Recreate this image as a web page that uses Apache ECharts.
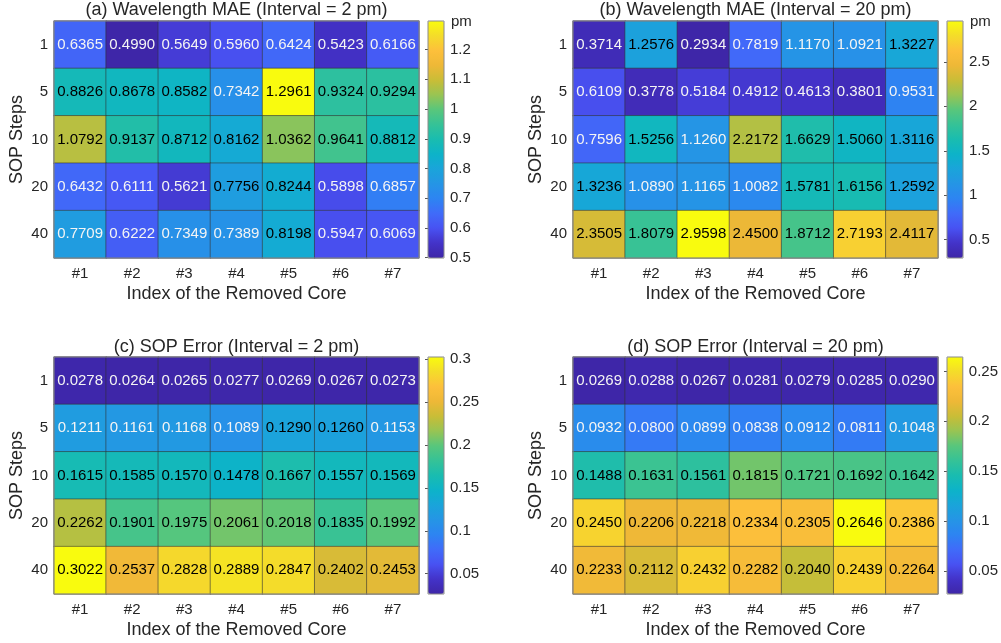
<!DOCTYPE html>
<html><head><meta charset="utf-8">
<script src="https://cdn.jsdelivr.net/npm/echarts@6/dist/echarts.min.js"></script>
<style>html,body{margin:0;padding:0;background:#fff}#c{width:1001px;height:643px}</style>
</head><body><div id="c"></div>
<script>
const cores = ['#1','#2','#3','#4','#5','#6','#7'];
const steps = ['1','5','10','20','40'];
const panelTitles = [
  '(a) Wavelength MAE (Interval = 2 pm)',
  '(b) Wavelength MAE (Interval = 20 pm)',
  '(c) SOP Error (Interval = 2 pm)',
  '(d) SOP Error (Interval = 20 pm)'
];
const colorbarUnits = ['pm','pm','',''];
const xAxisName = 'Index of the Removed Core';
const yAxisName = 'SOP Steps';

const maeInt2 = [
  [0.6365,0.4990,0.5649,0.5960,0.6424,0.5423,0.6166],
  [0.8826,0.8678,0.8582,0.7342,1.2961,0.9324,0.9294],
  [1.0792,0.9137,0.8712,0.8162,1.0362,0.9641,0.8812],
  [0.6432,0.6111,0.5621,0.7756,0.8244,0.5898,0.6857],
  [0.7709,0.6222,0.7349,0.7389,0.8198,0.5947,0.6069]
];
const maeInt20 = [
  [0.3714,1.2576,0.2934,0.7819,1.1170,1.0921,1.3227],
  [0.6109,0.3778,0.5184,0.4912,0.4613,0.3801,0.9531],
  [0.7596,1.5256,1.1260,2.2172,1.6629,1.5060,1.3116],
  [1.3236,1.0890,1.1165,1.0082,1.5781,1.6156,1.2592],
  [2.3505,1.8079,2.9598,2.4500,1.8712,2.7193,2.4117]
];
const sopInt2 = [
  [0.0278,0.0264,0.0265,0.0277,0.0269,0.0267,0.0273],
  [0.1211,0.1161,0.1168,0.1089,0.1290,0.1260,0.1153],
  [0.1615,0.1585,0.1570,0.1478,0.1667,0.1557,0.1569],
  [0.2262,0.1901,0.1975,0.2061,0.2018,0.1835,0.1992],
  [0.3022,0.2537,0.2828,0.2889,0.2847,0.2402,0.2453]
];
const sopInt20 = [
  [0.0269,0.0288,0.0267,0.0281,0.0279,0.0285,0.0290],
  [0.0932,0.0800,0.0899,0.0838,0.0912,0.0811,0.1048],
  [0.1488,0.1631,0.1561,0.1815,0.1721,0.1692,0.1642],
  [0.2450,0.2206,0.2218,0.2334,0.2305,0.2646,0.2386],
  [0.2233,0.2112,0.2432,0.2282,0.2040,0.2439,0.2264]
];
const panelData = [maeInt2, maeInt20, sopInt2, sopInt20];
const colorbarSplit = [8, 5, 5, 5];

const parula = ['#3e26a8','#4332c8','#4852f2','#406bf9','#2d84f2','#2595e5','#1aa4da',
  '#0cb3c9','#19bcb0','#35c297','#58c67c','#98c453','#c9bd37','#eeb837','#fdc03b','#f4dc2a','#f9fb0e'];

const FONT = '"Liberation Sans", Arial, sans-serif';
const TXT = '#262626';
const gridLeft = [54, 573, 54, 573];
const gridTop = [21, 21, 357, 357];
const titleTop = [1, 1, 338, 338];
const GW = 365, GH = 237;
const CB_OFF = 374, CB_W = 16;

const grid = [], xAxis = [], yAxis = [], series = [], visualMap = [], graphic = [], title = [];
panelData.forEach((m, p) => {
  const flat = m.flat();
  const vmin = Math.min(...flat), vmax = Math.max(...flat);
  const data = [];
  m.forEach((row, r) => row.forEach((v, c) => {
    const t = (v - vmin) / (vmax - vmin);
    data.push({ value: [c, r, v], label: { color: t > 0.345 ? '#000' : '#f4f4f4' } });
  }));
  grid.push({ left: gridLeft[p], top: gridTop[p], width: GW, height: GH,
    show: true, borderColor: '#8a8a8a', borderWidth: 1, backgroundColor: 'transparent', z: 5 });
  const hg = grid.length - 1;
  xAxis.push({ type: 'category', gridIndex: hg, data: cores,
    axisLine: { show: false }, axisTick: { show: false }, splitLine: { show: false },
    axisLabel: { fontSize: 15, color: TXT, fontFamily: FONT, margin: 8 },
    name: xAxisName, nameLocation: 'middle', nameGap: 27,
    nameTextStyle: { fontSize: 18, color: TXT, fontFamily: FONT } });
  yAxis.push({ type: 'category', gridIndex: hg, data: steps, inverse: true,
    axisLine: { show: false }, axisTick: { show: false }, splitLine: { show: false },
    axisLabel: { fontSize: 15, color: TXT, fontFamily: FONT, margin: 6 },
    name: yAxisName, nameLocation: 'middle', nameGap: 28, nameRotate: 90,
    nameTextStyle: { fontSize: 18, color: TXT, fontFamily: FONT } });
  series.push({ type: 'heatmap', xAxisIndex: xAxis.length - 1, yAxisIndex: yAxis.length - 1,
    data: data,
    itemStyle: { borderColor: 'rgba(50,50,50,0.55)', borderWidth: 1 },
    label: { show: true, fontSize: 15, fontFamily: FONT,
      formatter: (pp) => pp.value[2].toFixed(4) },
    emphasis: { disabled: true } });
  const cbLeft = gridLeft[p] + CB_OFF;
  visualMap.push({ type: 'continuous', seriesIndex: series.length - 1, min: vmin, max: vmax,
    orient: 'vertical', left: cbLeft, top: gridTop[p], itemWidth: CB_W, itemHeight: GH,
    padding: 0, calculable: false, hoverLink: false, text: null, showLabel: false,
    inRange: { color: parula } });
  grid.push({ left: cbLeft, top: gridTop[p], width: CB_W, height: GH,
    show: true, borderColor: '#8a8a8a', borderWidth: 1, backgroundColor: 'transparent', z: 6 });
  const cg = grid.length - 1;
  xAxis.push({ type: 'value', gridIndex: cg, show: false, min: 0, max: 1 });
  yAxis.push({ type: 'value', gridIndex: cg, position: 'right', min: vmin, max: vmax,
    splitNumber: colorbarSplit[p],
    axisLine: { show: false }, splitLine: { show: false },
    axisTick: { show: true, inside: true, length: 3, lineStyle: { color: '#555' } },
    axisLabel: { fontSize: 15, color: TXT, fontFamily: FONT, margin: 6,
      showMinLabel: false, showMaxLabel: false } });
  title.push({ text: panelTitles[p], left: gridLeft[p] + GW / 2, top: titleTop[p],
    textAlign: 'center', padding: 0,
    textStyle: { fontSize: 18, fontWeight: 'normal', color: TXT, fontFamily: FONT } });
  if (colorbarUnits[p]) {
    graphic.push({ type: 'text', x: cbLeft + CB_W + 7, y: gridTop[p] + 1,
      style: { text: colorbarUnits[p], font: '15px "Liberation Sans", Arial, sans-serif', fill: TXT,
        textAlign: 'left', textVerticalAlign: 'middle' } });
  }
});

const chart = echarts.init(document.getElementById('c'), null, { renderer: 'canvas' });
chart.setOption({
  animation: false,
  textStyle: { fontFamily: FONT },
  title, grid, xAxis, yAxis, series, visualMap, graphic
});
</script>
</body></html>
